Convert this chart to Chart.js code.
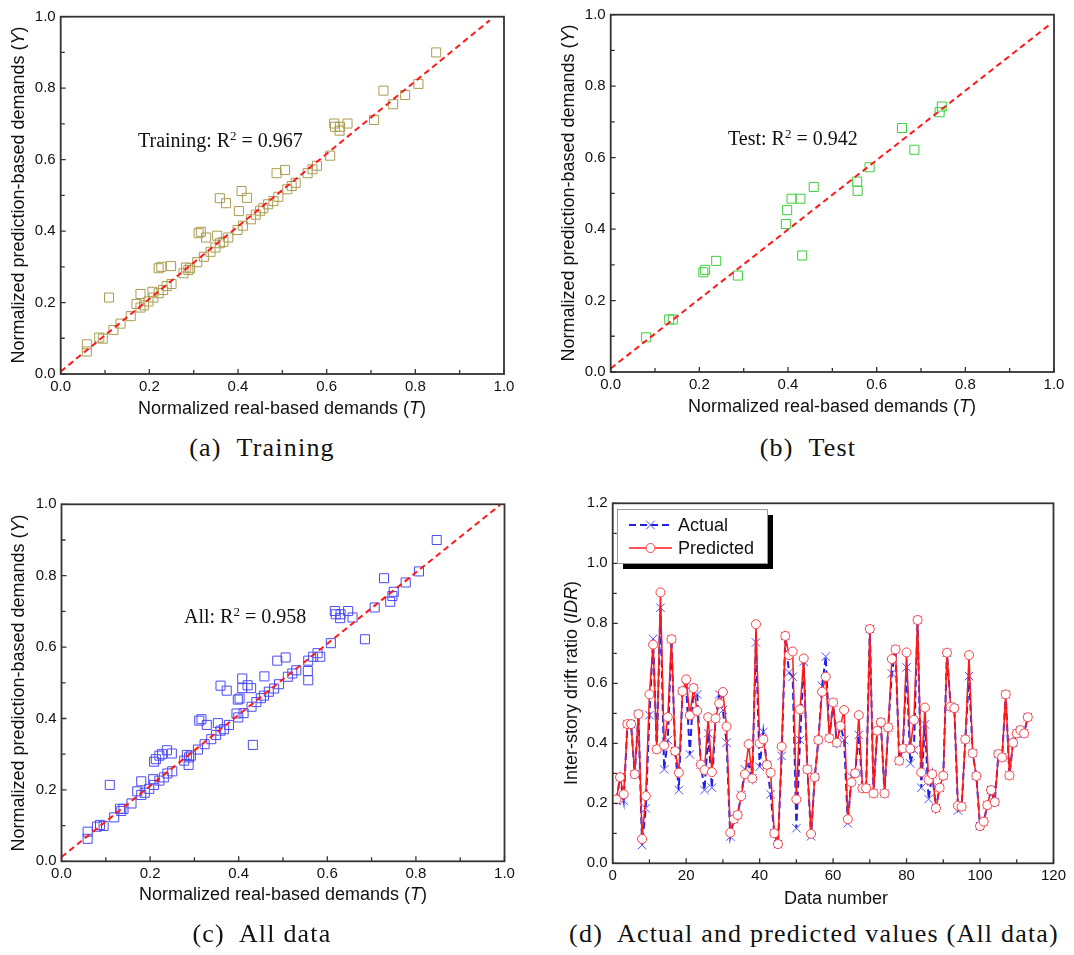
<!DOCTYPE html>
<html>
<head>
<meta charset="utf-8">
<script src="https://cdn.jsdelivr.net/npm/chart.js@4.4.0/dist/chart.umd.min.js"></script>
<style>
body { margin: 0; background: #fff; }
#fig { position: relative; width: 1074px; height: 955px; overflow: hidden; font-family: 'Liberation Sans', Arial, sans-serif; }
#fig canvas { position: absolute; }
.lbl { position: absolute; white-space: nowrap; font-size: 18px; color: #111; transform: translate(-50%, -50%); }
.rot { transform: translate(-50%, -50%) rotate(-90deg); }
.note { position: absolute; white-space: nowrap; font-family: 'Liberation Serif', 'Times New Roman', serif; font-size: 20px; line-height: 20px; color: #111; }
.note sup { font-size: 0.65em; vertical-align: 0.55em; line-height: 0; }
.cap { position: absolute; white-space: nowrap; font-family: 'Liberation Serif', serif; font-size: 26px; letter-spacing: 1.2px; color: #111; transform: translate(-50%, -50%); }
</style>
</head>
<body>
<div id="fig">
  <canvas id="chartA" width="530" height="420" style="left:0;top:0"></canvas>
  <canvas id="chartB" width="530" height="420" style="left:540px;top:0"></canvas>
  <canvas id="chartC" width="530" height="420" style="left:0;top:480px"></canvas>
  <canvas id="chartD" width="530" height="420" style="left:540px;top:480px"></canvas>

  <div class="lbl rot" style="left:18px;top:195px">Normalized prediction-based demands (<i>Y</i>)</div>
  <div class="lbl" style="left:282px;top:408px">Normalized real-based demands (<i>T</i>)</div>
  <div class="lbl rot" style="left:568px;top:193px">Normalized prediction-based demands (<i>Y</i>)</div>
  <div class="lbl" style="left:832px;top:406px">Normalized real-based demands (<i>T</i>)</div>
  <div class="lbl rot" style="left:18px;top:683px">Normalized prediction-based demands (<i>Y</i>)</div>
  <div class="lbl" style="left:283px;top:894px">Normalized real-based demands (<i>T</i>)</div>
  <div class="lbl rot" style="left:571px;top:683px">Inter-story drift ratio (<i>IDR</i>)</div>
  <div class="lbl" style="left:836px;top:898px">Data number</div>

  <div class="note" style="left:138px;top:130px">Training: R<sup>2</sup> = 0.967</div>
  <div class="note" style="left:728px;top:128px">Test: R<sup>2</sup> = 0.942</div>
  <div class="note" style="left:184px;top:606px">All: R<sup>2</sup> = 0.958</div>

  <div class="cap" style="left:262px;top:448px">(a)&nbsp; Training</div>
  <div class="cap" style="left:808px;top:448px">(b)&nbsp; Test</div>
  <div class="cap" style="left:262px;top:934px">(c)&nbsp; All data</div>
  <div class="cap" style="left:814px;top:934px">(d)&nbsp; Actual and predicted values (All data)</div>
</div>
<script>
// training set: real (T) vs predicted (Y)
var trainT = [0.059, 0.059, 0.087, 0.095, 0.109, 0.119, 0.135, 0.158, 0.171, 0.180, 0.180, 0.188, 0.198, 0.207, 0.209, 0.221, 0.221, 0.227, 0.231, 0.239,
              0.249, 0.250, 0.277, 0.283, 0.288, 0.292, 0.308, 0.311, 0.316, 0.328, 0.323, 0.338, 0.349, 0.353, 0.359, 0.359, 0.367, 0.373, 0.378, 0.399,
              0.402, 0.408, 0.411, 0.420, 0.429, 0.440, 0.450, 0.457, 0.468, 0.480, 0.491, 0.487, 0.506, 0.511, 0.521, 0.530, 0.557, 0.568, 0.578, 0.608,
              0.617, 0.619, 0.629, 0.630, 0.647, 0.707, 0.728, 0.750, 0.777, 0.807, 0.847];
var trainY = [0.083, 0.063, 0.102, 0.099, 0.214, 0.123, 0.141, 0.162, 0.196, 0.224, 0.186, 0.192, 0.203, 0.230, 0.214, 0.226, 0.296, 0.300, 0.235, 0.246,
              0.302, 0.252, 0.282, 0.298, 0.291, 0.296, 0.313, 0.394, 0.398, 0.382, 0.328, 0.342, 0.354, 0.387, 0.492, 0.366, 0.370, 0.478, 0.382, 0.403,
              0.456, 0.512, 0.415, 0.493, 0.433, 0.446, 0.457, 0.464, 0.475, 0.484, 0.496, 0.562, 0.571, 0.517, 0.526, 0.535, 0.562, 0.573, 0.583, 0.611,
              0.701, 0.692, 0.681, 0.692, 0.701, 0.711, 0.793, 0.755, 0.781, 0.812, 0.900];
// test set
var testT = [0.080, 0.132, 0.140, 0.209, 0.213, 0.238, 0.287, 0.395, 0.398, 0.408, 0.428, 0.432, 0.458, 0.556, 0.557, 0.584, 0.657, 0.685, 0.742, 0.747];
var testY = [0.097, 0.147, 0.147, 0.279, 0.286, 0.311, 0.270, 0.414, 0.453, 0.485, 0.485, 0.326, 0.518, 0.533, 0.507, 0.573, 0.683, 0.622, 0.727, 0.743];

// dashed reference lines, end points as (T, Y)
var refTrain = [[0, 0.007], [0.968, 0.99]];
var refTest = [[0, 0.01], [0.99, 0.972]];
var refAll = [[0, 0.012], [0.99, 0.998]];

// (d) values by data number 1..113
var actualIDR = [0.209, 0.287, 0.209, 0.464, 0.464, 0.297, 0.497, 0.061, 0.183, 0.494,
                 0.748, 0.380, 0.852, 0.313, 0.411, 0.747, 0.374, 0.244, 0.574, 0.591,
                 0.363, 0.584, 0.563, 0.329, 0.244, 0.433, 0.252, 0.483, 0.563, 0.511,
                 0.402, 0.089, 0.147, 0.161, 0.228, 0.313, 0.330, 0.283, 0.736, 0.322,
                 0.438, 0.328, 0.230, 0.100, 0.064, 0.358, 0.758, 0.636, 0.622, 0.117,
                 0.411, 0.672, 0.313, 0.090, 0.287, 0.411, 0.591, 0.689, 0.417, 0.536,
                 0.402, 0.458, 0.411, 0.133, 0.289, 0.300, 0.428, 0.250, 0.250, 0.781,
                 0.233, 0.442, 0.470, 0.233, 0.453, 0.633, 0.713, 0.342, 0.383, 0.653,
                 0.333, 0.378, 0.811, 0.252, 0.463, 0.214, 0.297, 0.184, 0.252, 0.292,
                 0.702, 0.522, 0.517, 0.176, 0.189, 0.413, 0.624, 0.367, 0.291, 0.124,
                 0.139, 0.194, 0.244, 0.204, 0.364, 0.353, 0.563, 0.293, 0.402, 0.433,
                 0.444, 0.433, 0.487];
var predictedIDR = [0.213, 0.287, 0.230, 0.464, 0.464, 0.297, 0.497, 0.081, 0.224, 0.563,
                    0.729, 0.380, 0.903, 0.393, 0.487, 0.747, 0.374, 0.302, 0.574, 0.613,
                    0.493, 0.584, 0.508, 0.329, 0.311, 0.487, 0.304, 0.483, 0.533, 0.571,
                    0.456, 0.102, 0.147, 0.161, 0.224, 0.297, 0.397, 0.283, 0.797, 0.400,
                    0.413, 0.328, 0.302, 0.100, 0.064, 0.389, 0.758, 0.694, 0.706, 0.213,
                    0.513, 0.683, 0.313, 0.098, 0.287, 0.411, 0.572, 0.622, 0.417, 0.536,
                    0.402, 0.458, 0.511, 0.147, 0.270, 0.300, 0.494, 0.250, 0.250, 0.781,
                    0.233, 0.442, 0.470, 0.233, 0.453, 0.681, 0.713, 0.342, 0.383, 0.703,
                    0.382, 0.478, 0.811, 0.303, 0.519, 0.278, 0.297, 0.184, 0.252, 0.292,
                    0.702, 0.522, 0.517, 0.192, 0.189, 0.413, 0.694, 0.367, 0.291, 0.124,
                    0.139, 0.194, 0.244, 0.204, 0.364, 0.353, 0.563, 0.293, 0.402, 0.433,
                    0.444, 0.433, 0.487];

var tickFont = { family: "'Liberation Sans', Arial, sans-serif", size: 15 };

function pairs(xs, ys) {
    return xs.map(function(x, i) { return { x: x, y: ys[i] }; });
}
function seq(vals) {
    return vals.map(function(v, i) { return { x: i + 1, y: v }; });
}
function fixed1(v) { return Number(v).toFixed(1); }

// minor ticks sit halfway between the majors
function tickValues(scale) {
    var out = [], tk = scale.ticks;
    for (var i = 0; i < tk.length; i++) {
        out.push({ v: tk[i].value, major: true });
        if (i < tk.length - 1) out.push({ v: (tk[i].value + tk[i + 1].value) / 2, major: false });
    }
    return out;
}

var framePlugin = {
    id: 'frame',
    afterDatasetsDraw: function(chart) {
        var ctx = chart.ctx, a = chart.chartArea;
        var xs = chart.scales.x, ys = chart.scales.y;
        ctx.save();
        ctx.strokeStyle = '#333';
        ctx.lineWidth = 1.3;
        ctx.beginPath();
        tickValues(xs).forEach(function(t) {
            var px = xs.getPixelForValue(t.v);
            ctx.moveTo(px, a.bottom);
            ctx.lineTo(px, a.bottom - (t.major ? 5 : 4));
        });
        tickValues(ys).forEach(function(t) {
            var py = ys.getPixelForValue(t.v);
            ctx.moveTo(a.left, py);
            ctx.lineTo(a.left + (t.major ? 5 : 4), py);
        });
        ctx.stroke();
        ctx.lineWidth = 1.8;
        ctx.strokeRect(a.left, a.top, a.right - a.left, a.bottom - a.top);
        ctx.restore();
    }
};

// legend box with drop shadow for (d)
var boxLegend = {
    id: 'boxLegend',
    afterDraw: function(chart) {
        var ctx = chart.ctx;
        var x0 = 77, y0 = 29, w = 150, h = 54;
        ctx.save();
        ctx.fillStyle = '#000';
        ctx.fillRect(x0 + 6, y0 + 6, w, h);
        ctx.fillStyle = '#fff';
        ctx.fillRect(x0, y0, w, h);
        ctx.strokeStyle = '#999';
        ctx.lineWidth = 1;
        ctx.strokeRect(x0 + 0.5, y0 + 0.5, w, h);
        var rows = [45, 68];
        chart.data.datasets.forEach(function(ds, i) {
            var y = rows[i];
            ctx.strokeStyle = ds.borderColor;
            ctx.lineWidth = ds.borderWidth;
            ctx.setLineDash(ds.borderDash || []);
            ctx.beginPath();
            ctx.moveTo(89, y);
            ctx.lineTo(132, y);
            ctx.stroke();
            ctx.setLineDash([]);
            ctx.strokeStyle = ds.pointBorderColor;
            ctx.lineWidth = 1;
            ctx.beginPath();
            if (ds.pointStyle === 'circle') {
                ctx.fillStyle = ds.pointBackgroundColor;
                ctx.arc(110.5, y, ds.pointRadius, 0, Math.PI * 2);
                ctx.fill();
            } else {
                var r = ds.pointRadius * 0.72;
                ctx.moveTo(110.5 - r, y - r); ctx.lineTo(110.5 + r, y + r);
                ctx.moveTo(110.5 - r, y + r); ctx.lineTo(110.5 + r, y - r);
            }
            ctx.stroke();
            ctx.fillStyle = '#111';
            ctx.font = "18px 'Liberation Sans', Arial, sans-serif";
            ctx.textBaseline = 'middle';
            ctx.fillText(ds.label, 138, y + 1);
        });
        ctx.restore();
    }
};

function makeOptions(box, xCfg, yCfg) {
    return {
        responsive: false,
        animation: false,
        layout: { autoPadding: false, padding: { left: 0, top: box.top, right: box.right, bottom: 0 } },
        plugins: { legend: { display: false }, tooltip: { enabled: false } },
        scales: {
            x: {
                type: 'linear', min: xCfg.min, max: xCfg.max,
                ticks: { stepSize: xCfg.step, font: tickFont, color: '#111', padding: 4, maxRotation: 0, autoSkip: false, callback: xCfg.fmt },
                grid: { display: false, drawTicks: false }, border: { display: false },
                afterFit: function(s) { s.height = box.xh; }
            },
            y: {
                type: 'linear', min: yCfg.min, max: yCfg.max,
                ticks: { stepSize: yCfg.step, font: tickFont, color: '#111', padding: 5, autoSkip: false, callback: yCfg.fmt },
                grid: { display: false, drawTicks: false }, border: { display: false },
                afterFit: function(s) { s.width = box.yw; }
            }
        }
    };
}

function scatterChart(id, xs, ys, ref, color, box) {
    var unit = { min: 0, max: 1, step: 0.2, fmt: fixed1 };
    return new Chart(document.getElementById(id), {
        type: 'scatter',
        data: {
            datasets: [{
                data: pairs(xs, ys),
                pointStyle: 'rect', pointRadius: 6.4,
                borderColor: color, backgroundColor: 'rgba(0,0,0,0)', borderWidth: 1,
                order: 2
            }, {
                type: 'line',
                data: ref.map(function(p) { return { x: p[0], y: p[1] }; }),
                borderColor: '#ff1a1a', borderWidth: 2, borderDash: [6, 4],
                pointRadius: 0, fill: false, order: 1
            }]
        },
        options: makeOptions(box, unit, unit),
        plugins: [framePlugin]
    });
}

scatterChart('chartA', trainT, trainY, refTrain, '#aa9c50', { top: 16.7, right: 26, xh: 46, yw: 60.7 });
scatterChart('chartB', testT, testY, refTest, '#3ccf3c', { top: 14.7, right: 16, xh: 48, yw: 70.7 });
scatterChart('chartC', trainT.concat(testT), trainY.concat(testY), refAll, '#4a4af5', { top: 24.3, right: 25.5, xh: 38.7, yw: 61.5 });

new Chart(document.getElementById('chartD'), {
    type: 'line',
    data: {
        datasets: [{
            label: 'Actual',
            data: seq(actualIDR),
            borderColor: '#1f1fe6', borderWidth: 2, borderDash: [7, 4],
            pointStyle: 'crossRot', pointRadius: 6,
            pointBorderColor: '#5050ff', pointBorderWidth: 1,
            tension: 0, order: 2
        }, {
            label: 'Predicted',
            data: seq(predictedIDR),
            borderColor: '#ff1a1a', borderWidth: 1.5,
            pointStyle: 'circle', pointRadius: 4.5,
            pointBackgroundColor: '#fff', pointBorderColor: '#ff4040', pointBorderWidth: 1,
            tension: 0, order: 1
        }]
    },
    options: makeOptions({ top: 23.3, right: 9.7, xh: 36.7, yw: 72.7 },
        { min: 0, max: 120, step: 20 },
        { min: 0, max: 1.2, step: 0.2, fmt: fixed1 }),
    plugins: [framePlugin, boxLegend]
});
</script>
</body>
</html>
